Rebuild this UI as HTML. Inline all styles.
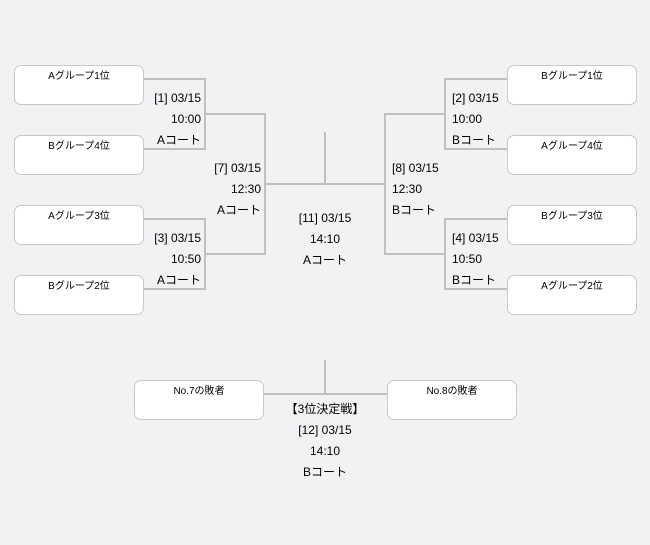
<!DOCTYPE html>
<html><head><meta charset="utf-8"><style>
body{margin:0;width:650px;height:545px;background:#f3f1f4;position:relative;overflow:hidden;font-family:"Liberation Sans","Noto Sans CJK JP",sans-serif;color:#000}
.b{position:absolute;width:128px;height:38px;background:#fff;border:1px solid #c8c8c8;border-radius:7px;font-size:10px;text-align:center;line-height:22px;box-sizing:content-box}
.l{position:absolute;background:#c0c0c0}
.t{position:absolute;font-size:12px;line-height:21px;white-space:nowrap}
.r{text-align:right}
.c{text-align:center}
</style></head><body>
<div class="l" style="left:144px;top:78px;width:62px;height:2px"></div>
<div class="l" style="left:204px;top:78px;width:2px;height:72px"></div>
<div class="l" style="left:144px;top:148px;width:62px;height:2px"></div>
<div class="l" style="left:144px;top:218px;width:62px;height:2px"></div>
<div class="l" style="left:204px;top:218px;width:2px;height:72px"></div>
<div class="l" style="left:144px;top:288px;width:62px;height:2px"></div>
<div class="l" style="left:204px;top:113px;width:62px;height:2px"></div>
<div class="l" style="left:204px;top:253px;width:62px;height:2px"></div>
<div class="l" style="left:264px;top:113px;width:2px;height:142px"></div>
<div class="l" style="left:444px;top:78px;width:63px;height:2px"></div>
<div class="l" style="left:444px;top:78px;width:2px;height:72px"></div>
<div class="l" style="left:444px;top:148px;width:63px;height:2px"></div>
<div class="l" style="left:444px;top:218px;width:63px;height:2px"></div>
<div class="l" style="left:444px;top:218px;width:2px;height:72px"></div>
<div class="l" style="left:444px;top:288px;width:63px;height:2px"></div>
<div class="l" style="left:384px;top:113px;width:62px;height:2px"></div>
<div class="l" style="left:384px;top:253px;width:62px;height:2px"></div>
<div class="l" style="left:384px;top:113px;width:2px;height:142px"></div>
<div class="l" style="left:264px;top:183px;width:122px;height:2px"></div>
<div class="l" style="left:324px;top:132px;width:2px;height:52px"></div>
<div class="l" style="left:264px;top:393px;width:123px;height:2px"></div>
<div class="l" style="left:324px;top:360px;width:2px;height:34px"></div>
<div class="b" style="left:14px;top:65px">Aグループ1位</div>
<div class="b" style="left:14px;top:135px">Bグループ4位</div>
<div class="b" style="left:14px;top:205px">Aグループ3位</div>
<div class="b" style="left:14px;top:275px">Bグループ2位</div>
<div class="b" style="left:507px;top:65px">Bグループ1位</div>
<div class="b" style="left:507px;top:135px">Aグループ4位</div>
<div class="b" style="left:507px;top:205px">Bグループ3位</div>
<div class="b" style="left:507px;top:275px">Aグループ2位</div>
<div class="b" style="left:134px;top:380px">No.7の敗者</div>
<div class="b" style="left:387px;top:380px">No.8の敗者</div>
<div class="t r" style="right:449px;top:88px">[1] 03/15<br>10:00<br>Aコート</div>
<div class="t r" style="right:449px;top:228px">[3] 03/15<br>10:50<br>Aコート</div>
<div class="t r" style="right:389px;top:158px">[7] 03/15<br>12:30<br>Aコート</div>
<div class="t" style="left:452px;top:88px">[2] 03/15<br>10:00<br>Bコート</div>
<div class="t" style="left:452px;top:228px">[4] 03/15<br>10:50<br>Bコート</div>
<div class="t" style="left:392px;top:158px">[8] 03/15<br>12:30<br>Bコート</div>
<div class="t c" style="left:265px;width:120px;top:208px">[11] 03/15<br>14:10<br>Aコート</div>
<div class="t c" style="left:245px;width:160px;top:399px">【3位決定戦】<br>[12] 03/15<br>14:10<br>Bコート</div>
</body></html>
